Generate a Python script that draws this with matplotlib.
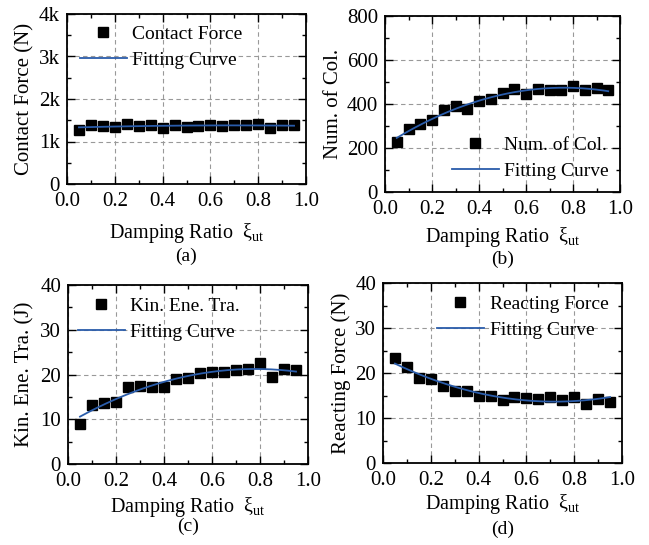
import numpy as np
import matplotlib
matplotlib.use('Agg')
import matplotlib.pyplot as plt
from matplotlib.ticker import MultipleLocator, FuncFormatter

plt.rcParams['font.family'] = ['Liberation Serif', 'DejaVu Serif']
plt.rcParams['mathtext.fontset'] = 'custom'
plt.rcParams['mathtext.rm'] = 'Liberation Serif'
plt.rcParams['mathtext.it'] = 'Liberation Serif:italic'

damping = [0.05, 0.10, 0.15, 0.20, 0.25, 0.30, 0.35, 0.40, 0.45, 0.50,
           0.55, 0.60, 0.65, 0.70, 0.75, 0.80, 0.85, 0.90, 0.95]

contact_force = [1260, 1400, 1360, 1340, 1410, 1370, 1390, 1310, 1390, 1330,
                 1360, 1390, 1370, 1400, 1390, 1420, 1310, 1390, 1380]
num_col = [227, 288, 308, 329, 374, 391, 379, 414, 423, 452,
           468, 447, 470, 465, 465, 480, 462, 474, 462]
kin_ene = [9.0, 13.2, 13.6, 13.9, 17.1, 17.5, 17.3, 17.2, 19.1, 19.3,
           20.3, 20.5, 20.6, 21.1, 21.3, 22.5, 19.5, 21.3, 21.0]
react_force = [23.4, 21.3, 18.8, 18.7, 17.2, 16.1, 16.0, 14.9, 14.9, 14.1,
               14.6, 14.5, 14.2, 14.6, 14.1, 14.7, 13.2, 14.3, 13.6]

fit_color = '#2a5caa'
xlab = r'Damping Ratio  ξ$_{\mathrm{ut}}$'

fig = plt.figure(figsize=(6.49, 5.45), dpi=100)
W, H = 649, 545


def make_ax(l, t, r, b):
    return fig.add_axes([l / W, 1 - b / H, (r - l) / W, (b - t) / H])


def fx(px):
    return px / W


def fy(py):
    return 1 - py / H


panels = [
    dict(box=(67, 14, 306, 184), y=contact_force, name='Contact Force',
         ylabel='Contact Force (N)', ymax=4000, major=1000, tag='(a)',
         kfmt=True, leg=(80, 47), ylx=25, xly=233, tagy=256),
    dict(box=(385, 16, 620, 192), y=num_col, name='Num. of Col.',
         ylabel='Num. of Col.', ymax=800, major=200, tag='(b)',
         kfmt=False, leg=(452, 158), ylx=334, xly=237, tagy=259),
    dict(box=(68, 285, 308, 464), y=kin_ene, name='Kin. Ene. Tra.',
         ylabel='Kin. Ene. Tra. (J)', ymax=40, major=10, tag='(c)',
         kfmt=False, leg=(78, 319), ylx=25, xly=507, tagy=526),
    dict(box=(383, 283, 622, 463), y=react_force, name='Reacting Force',
         ylabel='Reacting Force (N)', ymax=40, major=10, tag='(d)',
         kfmt=False, leg=(437, 317), ylx=341, xly=504, tagy=529),
]

x = np.array(damping)
xs = np.linspace(0.05, 0.95, 200)

for p in panels:
    ax = make_ax(*p['box'])
    y = np.array(p['y'], dtype=float)
    coef = np.polyfit(x, y, 2)
    ax.plot(x, y, 's', color='black', markersize=6.8, label=p['name'], zorder=3)
    ax.plot(xs, np.polyval(coef, xs), '-', color=fit_color, lw=1.3,
            label='Fitting Curve', zorder=4)
    ax.set_xlim(0, 1)
    ax.set_ylim(0, p['ymax'])
    ax.xaxis.set_major_locator(MultipleLocator(0.2))
    ax.xaxis.set_minor_locator(MultipleLocator(0.1))
    ax.yaxis.set_major_locator(MultipleLocator(p['major']))
    ax.yaxis.set_minor_locator(MultipleLocator(p['major'] / 2))
    ax.xaxis.set_major_formatter(FuncFormatter(lambda v, pos: f'{v:.1f}'))
    if p['kfmt']:
        ax.yaxis.set_major_formatter(
            FuncFormatter(lambda v, pos: '0' if v == 0 else f'{int(v / 1000)}k'))
    ax.tick_params(which='both', direction='in', top=True, right=True,
                   labelsize=15)
    ax.tick_params(axis='x', pad=6)
    ax.tick_params(axis='y', pad=5)
    ax.tick_params(which='major', length=6, width=1)
    ax.tick_params(which='minor', length=3, width=1)
    for s in ax.spines.values():
        s.set_linewidth(1.3)
    ax.grid(True, which='major', ls=(0, (4, 3)), color='#999999', lw=0.8)
    ax.set_axisbelow(True)

    l, t, r, b = p['box']
    fig.text(fx((l + r) / 2), fy(p['xly']), xlab, ha='center', va='center',
             fontsize=14.5)
    fig.text(fx(p['ylx']), fy((t + b) / 2), p['ylabel'], ha='center',
             va='center', rotation=90, fontsize=15)
    fig.text(fx((l + r) / 2), fy(p['tagy']), p['tag'], ha='center',
             va='center', fontsize=14)
    ax.legend(loc='center left', bbox_to_anchor=(fx(p['leg'][0]), fy(p['leg'][1])),
              bbox_transform=fig.transFigure, frameon=False,
              fontsize=14, handlelength=2.4, handletextpad=0.3,
              labelspacing=0.42, borderpad=0, borderaxespad=0)

fig.savefig('out.png', dpi=100)
